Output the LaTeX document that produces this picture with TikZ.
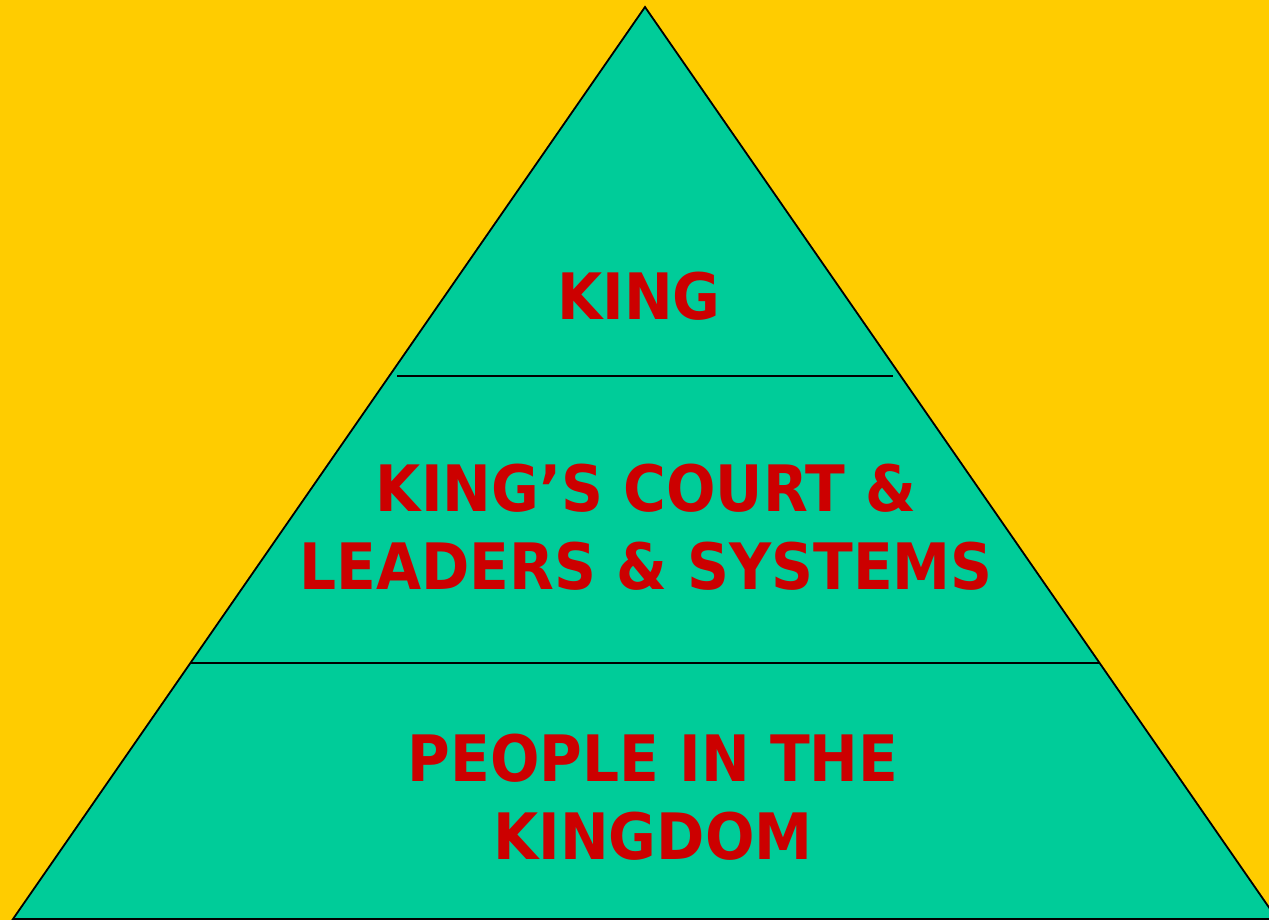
\documentclass[tikz,border=0pt]{standalone}
\usepackage{fontspec}
\setmainfont{DejaVu Sans}[FakeStretch=0.91]
\definecolor{bgyellow}{HTML}{FFCC00}
\definecolor{pyrgreen}{HTML}{00CC99}
\definecolor{txtred}{HTML}{CC0000}
\begin{document}
\begin{tikzpicture}[x=1pt,y=-1pt,
  tier/.style={text=txtred,font=\bfseries\fontsize{64}{78}\selectfont,align=center,inner sep=0pt},
  divider/.style={draw=black,line width=1.8pt}]
\fill[bgyellow] (0,0) rectangle (1269,920);
\useasboundingbox (0,0) rectangle (1269,920);
\coordinate (apex) at (645,7);
\coordinate (bl) at (13,919);
\coordinate (br) at (1277,919);
\filldraw[fill=pyrgreen,draw=black,line width=1.8pt] (apex) -- (br) -- (bl) -- cycle;
\coordinate (d1l) at (397,376);
\coordinate (d1r) at (893,376);
\coordinate (d2l) at (190,663);
\coordinate (d2r) at (1100,663);
\draw[divider] (d1l) -- (d1r);
\draw[divider] (d2l) -- (d2r);
\node[tier] (king) at (639,296) {KING};
\node[tier] (court) at (646,527) {KING'S COURT \&\\LEADERS \& SYSTEMS};
\node[tier] (people) at (653,797) {PEOPLE IN THE\\KINGDOM};
\end{tikzpicture}
\end{document}
